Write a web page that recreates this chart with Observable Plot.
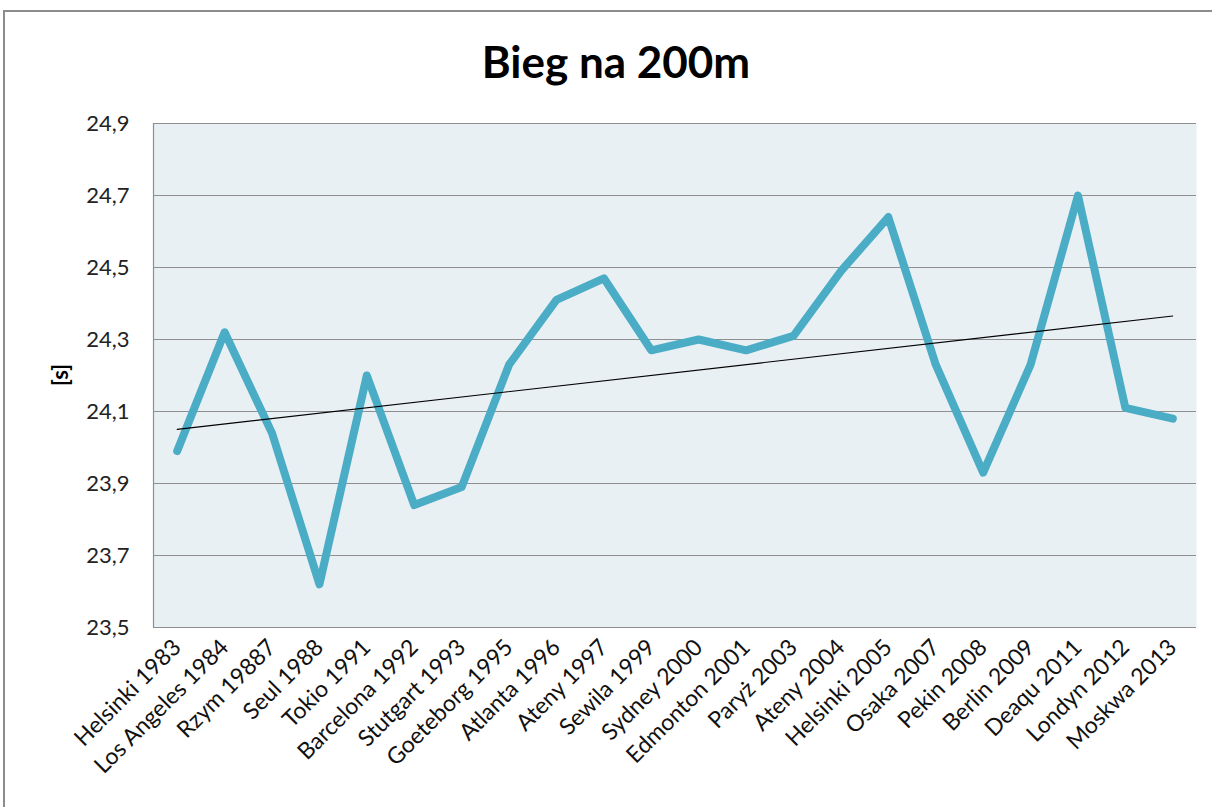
<!DOCTYPE html>
<html>
<head>
<meta charset="utf-8">
<script src="https://cdn.jsdelivr.net/npm/d3@7"></script>
<script src="https://cdn.jsdelivr.net/npm/@observablehq/plot@0.6"></script>
<style>
  html, body { margin: 0; padding: 0; background: #fff; }
  #wrap { position: relative; width: 1212px; height: 807px; overflow: hidden; font-family: Lato, "Open Sans", sans-serif; }
  #border { position: absolute; left: 3px; top: 10px; width: 1220px; height: 820px; border: 2px solid #8c8c8c; box-sizing: border-box; }
  #title { position: absolute; left: 0; width: 1232px; top: 36px; line-height: 50px; text-align: center; font-size: 44px; font-weight: bold; color: #000; }
  #ylab { position: absolute; left: 59px; top: 375px; transform: translate(-50%, -50%) rotate(-90deg); font-size: 22px; font-weight: bold; color: #000; }
  #chart { position: absolute; left: 0; top: 0; }
</style>
</head>
<body>
<div id="wrap">
  <div id="border"></div>
  <div id="chart"></div>
  <div id="title">Bieg na 200m</div>
  <div id="ylab">[s]</div>
</div>
<script>
const categories = ["Helsinki 1983", "Los Angeles 1984", "Rzym 19887", "Seul 1988", "Tokio 1991", "Barcelona 1992", "Stutgart 1993", "Goeteborg 1995", "Atlanta 1996", "Ateny 1997", "Sewila 1999", "Sydney 2000", "Edmonton 2001", "Paryż 2003", "Ateny 2004", "Helsinki 2005", "Osaka 2007", "Pekin 2008", "Berlin 2009", "Deaqu 2011", "Londyn 2012", "Moskwa 2013"];
const times = [23.99, 24.32, 24.04, 23.62, 24.20, 23.84, 23.89, 24.23, 24.41, 24.47, 24.27, 24.30, 24.27, 24.31, 24.49, 24.64, 24.23, 23.93, 24.23, 24.70, 24.11, 24.08];
const yTicks = [23.5, 23.7, 23.9, 24.1, 24.3, 24.5, 24.7, 24.9];

const data = categories.map((c, i) => ({i, name: c, t: times[i]}));
const idx = categories.map((c, i) => i);

const chart = Plot.plot({
  width: 1212,
  height: 807,
  marginLeft: 153,
  marginRight: 16,
  marginTop: 123,
  marginBottom: 180,
  style: {fontFamily: "Lato, 'Open Sans', sans-serif", fontSize: "22px", color: "#222", background: "transparent"},
  x: {type: "linear", domain: [-0.5, categories.length - 0.5]},
  y: {domain: [23.5, 24.9]},
  marks: [
    Plot.frame({fill: "#e8f0f4", stroke: null}),
    Plot.ruleY(yTicks, {stroke: "#8f8f8f", strokeWidth: 1.2}),
    Plot.ruleX([-0.5], {stroke: "#8f8f8f", strokeWidth: 1.2}),
    Plot.axisY({ticks: yTicks, tickSize: 0, tickPadding: 24, tickFormat: d => d.toFixed(1).replace(".", ","), label: null, fontSize: 22, fill: "#222"}),
    Plot.axisX({ticks: idx, tickSize: 0, tickPadding: 16, tickRotate: -45, tickFormat: i => categories[i], label: null, fontSize: 23, fill: "#111"}),
    Plot.line(data, {x: "i", y: "t", stroke: "#4aacc5", strokeWidth: 8, strokeLinejoin: "round", strokeLinecap: "round"}),
    Plot.linearRegressionY(data, {x: "i", y: "t", stroke: "#000", strokeWidth: 1.1, ci: 0})
  ]
});
document.getElementById("chart").appendChild(chart);
</script>
</body>
</html>
